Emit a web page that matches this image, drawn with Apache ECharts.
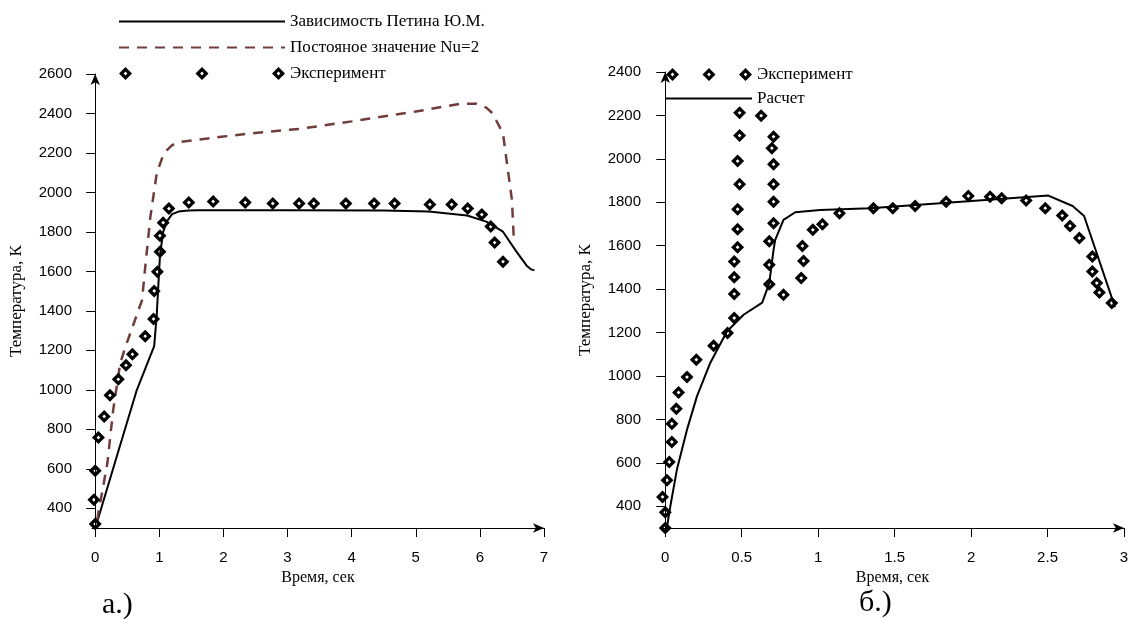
<!DOCTYPE html>
<html>
<head>
<meta charset="UTF-8">
<title></title>
<script type="text/javascript" src="https://cdn.jsdelivr.net/npm/echarts/dist/echarts.min.js"></script>
<style type="text/css">
	* { padding: 0; margin: 0; }
	body { background: #fff; }
	#main { width: 1132px; height: 619px; }
</style>
</head>
<body>
<div id="main"></div>
<script type="text/javascript">
// --- chart a.) ---
var petinTime = [0.03, 0.35, 0.65, 0.92, 0.96, 1.01, 1.06, 1.12, 1.2, 1.3, 1.45, 1.6, 3.0, 4.5, 5.2, 5.8, 6.1, 6.36, 6.57, 6.73, 6.8, 6.85];
var petinTemp = [330, 677, 1000, 1221, 1380, 1680, 1800, 1855, 1890, 1903, 1908, 1910, 1910, 1908, 1903, 1883, 1852, 1801, 1700, 1629, 1610, 1605];

var nuTime = [0.03, 0.19, 0.28, 0.39, 0.47, 0.73, 0.78, 0.86, 0.96, 1.05, 1.12, 1.2, 1.32, 2.0, 2.57, 3.19, 4.0, 5.0, 5.69, 5.95, 6.1, 6.2, 6.36, 6.43, 6.5, 6.53];
var nuTemp = [340, 629, 897, 1135, 1216, 1454, 1621, 1875, 2097, 2180, 2214, 2240, 2256, 2283, 2304, 2322, 2360, 2410, 2449, 2449, 2430, 2400, 2299, 2130, 1961, 1759];

var expATime = [0, -0.02, 0, 0.05, 0.14, 0.23, 0.36, 0.48, 0.58, 0.78, 0.91, 0.92, 0.97, 1.01, 1.01, 1.06, 1.15, 1.46, 1.84, 2.34, 2.77, 3.18, 3.41, 3.91, 4.35, 4.67, 5.22, 5.56, 5.81, 6.03, 6.17, 6.23, 6.36];
var expATemp = [320, 443, 590, 758, 865, 972, 1053, 1124, 1180, 1272, 1359, 1501, 1598, 1700, 1781, 1847, 1918, 1949, 1954, 1949, 1944, 1944, 1944, 1944, 1944, 1944, 1939, 1939, 1918, 1888, 1827, 1746, 1649];

// --- chart б.) ---
var calcTime = [0.01, 0.033, 0.076, 0.142, 0.207, 0.294, 0.403, 0.512, 0.634, 0.68, 0.708, 0.719, 0.773, 0.85, 1.013, 1.34, 2.505, 2.664, 2.739, 2.941];
var calcTemp = [300, 400, 569, 753, 906, 1060, 1205, 1282, 1338, 1428, 1581, 1627, 1719, 1754, 1765, 1773, 1831, 1783, 1737, 1317];

var expBTime = [0, 0, -0.018, 0.011, 0.026, 0.043, 0.043, 0.072, 0.087, 0.142, 0.203, 0.316, 0.407, 0.451, 0.451, 0.451, 0.451, 0.473, 0.473, 0.473, 0.486, 0.473, 0.486, 0.486,
	0.68, 0.68, 0.68, 0.708, 0.708, 0.708, 0.708, 0.708, 0.697, 0.627, 0.773, 0.889, 0.904, 0.897, 0.965, 1.028, 1.139,
	1.361, 1.488, 1.634, 1.837, 1.982, 2.124, 2.2, 2.36, 2.485, 2.596, 2.647, 2.708, 2.793, 2.793, 2.822, 2.839, 2.92];
var expBTemp = [300, 372, 443, 520, 604, 696, 780, 849, 924, 995, 1075, 1139, 1198, 1267, 1378, 1455, 1527, 1593, 1676, 1768, 1883, 1990, 2107, 2212,
	1423, 1512, 1621, 1704, 1803, 1883, 1975, 2102, 2049, 2199, 1374, 1451, 1530, 1599, 1673, 1699, 1750,
	1773, 1773, 1783, 1803, 1829, 1826, 1819, 1808, 1773, 1739, 1691, 1635, 1550, 1481, 1428, 1384, 1336];

var ticksA = [0, 1, 2, 3, 4, 5, 6, 7];
var ticksB = [0, 0.5, 1, 1.5, 2, 2.5, 3];
var tempTicksA = [400, 600, 800, 1000, 1200, 1400, 1600, 1800, 2000, 2200, 2400, 2600];
var tempTicksB = [400, 600, 800, 1000, 1200, 1400, 1600, 1800, 2000, 2200, 2400];

function zip(xs, ys) {
	var out = [];
	for (var i = 0; i < xs.length; i++) out.push([xs[i], ys[i]]);
	return out;
}

// hollow diamond (ring) symbol, and a row of them for the legend
var ring = 'path://M6.5,0 L13,6.5 L6.5,13 L0,6.5 Z M6.5,4.6 L4.6,6.5 L6.5,8.4 L8.4,6.5 Z';
function ringRow(centers) {
	var p = 'path://';
	for (var i = 0; i < centers.length; i++) {
		var c = centers[i];
		p += 'M' + c + ',0 L' + (c + 6.5) + ',6.5 L' + c + ',13 L' + (c - 6.5) + ',6.5 Z ';
		p += 'M' + c + ',4.6 L' + (c - 1.9) + ',6.5 L' + c + ',8.4 L' + (c + 1.9) + ',6.5 Z ';
	}
	return p;
}

var sans = 'Liberation Sans';
var serif = 'Liberation Serif';
var noMark = { color: 'rgba(0,0,0,0)', borderColor: 'rgba(0,0,0,0)', borderWidth: 0, opacity: 0 };

function plain(v) { return String(v); }

function xAxisOf(idx, max, ticks, min) {
	return {
		gridIndex: idx, type: 'value', min: min, max: max,
		name: 'Время, сек', nameLocation: 'middle', nameGap: 40,
		nameTextStyle: { fontFamily: serif, fontSize: 16, color: '#000' },
		axisLine: { lineStyle: { color: '#000', width: 1 }, symbol: ['none', 'arrow'], symbolSize: [7, 11] },
		axisTick: { show: true, length: 9, lineStyle: { color: '#000' }, customValues: ticks },
		axisLabel: { fontFamily: sans, fontSize: 15, color: '#000', margin: 22, customValues: ticks, formatter: plain },
		splitLine: { show: false }
	};
}

function yAxisOf(idx, max, ticks) {
	return {
		gridIndex: idx, type: 'value', min: 300, max: max,
		name: 'Температура, К', nameLocation: 'middle', nameGap: 67,
		nameTextStyle: { fontFamily: serif, fontSize: 17, color: '#000' },
		axisLine: { show: true, lineStyle: { color: '#000', width: 1 }, symbol: ['none', 'arrow'], symbolSize: [7, 11] },
		axisTick: { show: true, length: 9, lineStyle: { color: '#000' }, customValues: ticks },
		axisLabel: { fontFamily: sans, fontSize: 15, color: '#000', margin: 20, customValues: ticks, formatter: plain },
		splitLine: { show: false }
	};
}

var chart = echarts.init(document.getElementById('main'));

chart.setOption({
	animation: false,
	backgroundColor: '#fff',
	title: [
		{ text: 'а.)', left: 102, top: 590, padding: 0, textStyle: { fontFamily: serif, fontSize: 30, fontWeight: 'normal', color: '#000' } },
		{ text: 'б.)', left: 859, top: 588, padding: 0, textStyle: { fontFamily: serif, fontSize: 30, fontWeight: 'normal', color: '#000' } }
	],
	legend: [
		{
			orient: 'vertical', left: 118, top: 13, padding: 0, itemWidth: 166, itemHeight: 13, itemGap: 9,
			textStyle: { fontFamily: serif, fontSize: 17, color: '#000' },
			data: [
				{ name: 'Зависимость Петина Ю.М.', itemStyle: noMark },
				{ name: 'Постояное значение Nu=2', itemStyle: noMark },
				{ name: 'Эксперимент', icon: ringRow([6.5, 83, 159.5]), itemStyle: { color: '#000', borderWidth: 0 } }
			]
		},
		{
			orient: 'vertical', left: 665, top: 66, padding: 0, itemWidth: 86, itemHeight: 13, itemGap: 7,
			textStyle: { fontFamily: serif, fontSize: 17, color: '#000' },
			data: [
				{ name: 'Эксперимент', icon: ringRow([6.5, 43, 79.5]), itemStyle: { color: '#000', borderWidth: 0 } },
				{ name: 'Расчет', itemStyle: noMark }
			]
		}
	],
	grid: [
		{ left: 92, top: 74, width: 452, height: 454 },
		{ left: 661, top: 72, width: 463, height: 456 }
	],
	xAxis: [xAxisOf(0, 7, ticksA, -0.05), xAxisOf(1, 3, ticksB, -0.028)],
	yAxis: [yAxisOf(0, 2600, tempTicksA), yAxisOf(1, 2400, tempTicksB)],
	series: [
		{
			name: 'Зависимость Петина Ю.М.', type: 'line', xAxisIndex: 0, yAxisIndex: 0,
			data: zip(petinTime, petinTemp), symbol: 'none',
			lineStyle: { color: '#000', width: 2 }, itemStyle: { color: '#000' }
		},
		{
			name: 'Постояное значение Nu=2', type: 'line', xAxisIndex: 0, yAxisIndex: 0,
			data: zip(nuTime, nuTemp), symbol: 'none',
			lineStyle: { color: '#703c3c', width: 2.5, type: [10, 8] }, itemStyle: { color: '#703c3c' }
		},
		{
			name: 'Эксперимент', type: 'scatter', xAxisIndex: 0, yAxisIndex: 0,
			data: zip(expATime, expATemp), symbol: ring, symbolSize: 13,
			itemStyle: { color: '#000', borderWidth: 0, opacity: 1 }, z: 3
		},
		{
			name: 'Расчет', type: 'line', xAxisIndex: 1, yAxisIndex: 1,
			data: zip(calcTime, calcTemp), symbol: 'none',
			lineStyle: { color: '#000', width: 2 }, itemStyle: { color: '#000' }
		},
		{
			name: 'Эксперимент', type: 'scatter', xAxisIndex: 1, yAxisIndex: 1,
			data: zip(expBTime, expBTemp), symbol: ring, symbolSize: 13,
			itemStyle: { color: '#000', borderWidth: 0, opacity: 1 }, z: 3
		}
	]
});
</script>
</body>
</html>
